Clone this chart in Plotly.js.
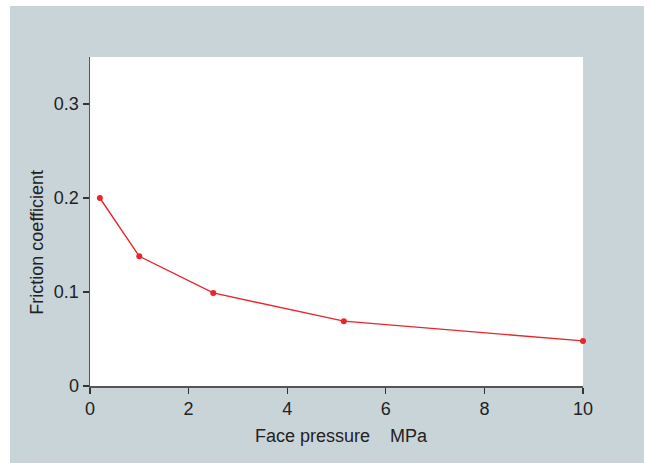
<!DOCTYPE html>
<html>
<head>
<meta charset="utf-8">
<script src="https://cdn.plot.ly/plotly-3.0.1.min.js"></script>
<style>
html,body{margin:0;padding:0;background:#ffffff;}
#wrap{position:relative;width:653px;height:463px;background:#ffffff;overflow:hidden;}
#chart{position:absolute;left:10px;top:6px;width:634px;height:457px;}
</style>
</head>
<body>
<div id="wrap"><div id="chart"></div></div>
<script>
const pressure = [0.2, 1.0, 2.5, 5.15, 10];
const friction = [0.200, 0.138, 0.099, 0.069, 0.048];
const yTicks = [0, 0.1, 0.2, 0.3];
const xTicks = [0, 2, 4, 6, 8, 10];
const xTitle = 'Face pressure\u00a0\u00a0\u00a0\u00a0MPa';
const yTitle = 'Friction coefficient';

const trace = {
  x: pressure,
  y: friction,
  type: 'scatter',
  mode: 'lines+markers',
  line: {color: '#e8262c', width: 1.4},
  marker: {color: '#e8262c', size: 6},
  cliponaxis: false,
  hoverinfo: 'skip'
};

const font = {family: 'Liberation Sans, Arial, sans-serif', size: 18, color: '#222222'};

const layout = {
  width: 634,
  height: 457,
  margin: {l: 80, r: 61, t: 51, b: 77},
  paper_bgcolor: '#c9d4d9',
  plot_bgcolor: '#ffffff',
  showlegend: false,
  font: font,
  xaxis: {
    range: [0, 10],
    tickvals: xTicks,
    ticks: 'outside',
    ticklen: 6,
    tickwidth: 1.2,
    tickcolor: '#333333',
    showline: true,
    linecolor: '#555555',
    linewidth: 1.5,
    showgrid: false,
    zeroline: false,
    tickfont: font
  },
  yaxis: {
    range: [0, 0.35],
    tickvals: yTicks,
    ticks: 'outside',
    ticklen: 6,
    tickwidth: 1.2,
    tickcolor: '#333333',
    showline: true,
    linecolor: '#555555',
    linewidth: 1.5,
    showgrid: false,
    zeroline: false,
    tickfont: font
  },
  annotations: [
    {text: xTitle, xref: 'paper', yref: 'paper', x: 0.511, y: -0.152,
     xanchor: 'center', yanchor: 'middle', showarrow: false, font: font},
    {text: yTitle, xref: 'paper', yref: 'paper', x: -0.108, y: 0.438,
     xanchor: 'center', yanchor: 'middle', textangle: -90, showarrow: false, font: font}
  ]
};

Plotly.newPlot('chart', [trace], layout, {displayModeBar: false, staticPlot: true});
</script>
</body>
</html>
